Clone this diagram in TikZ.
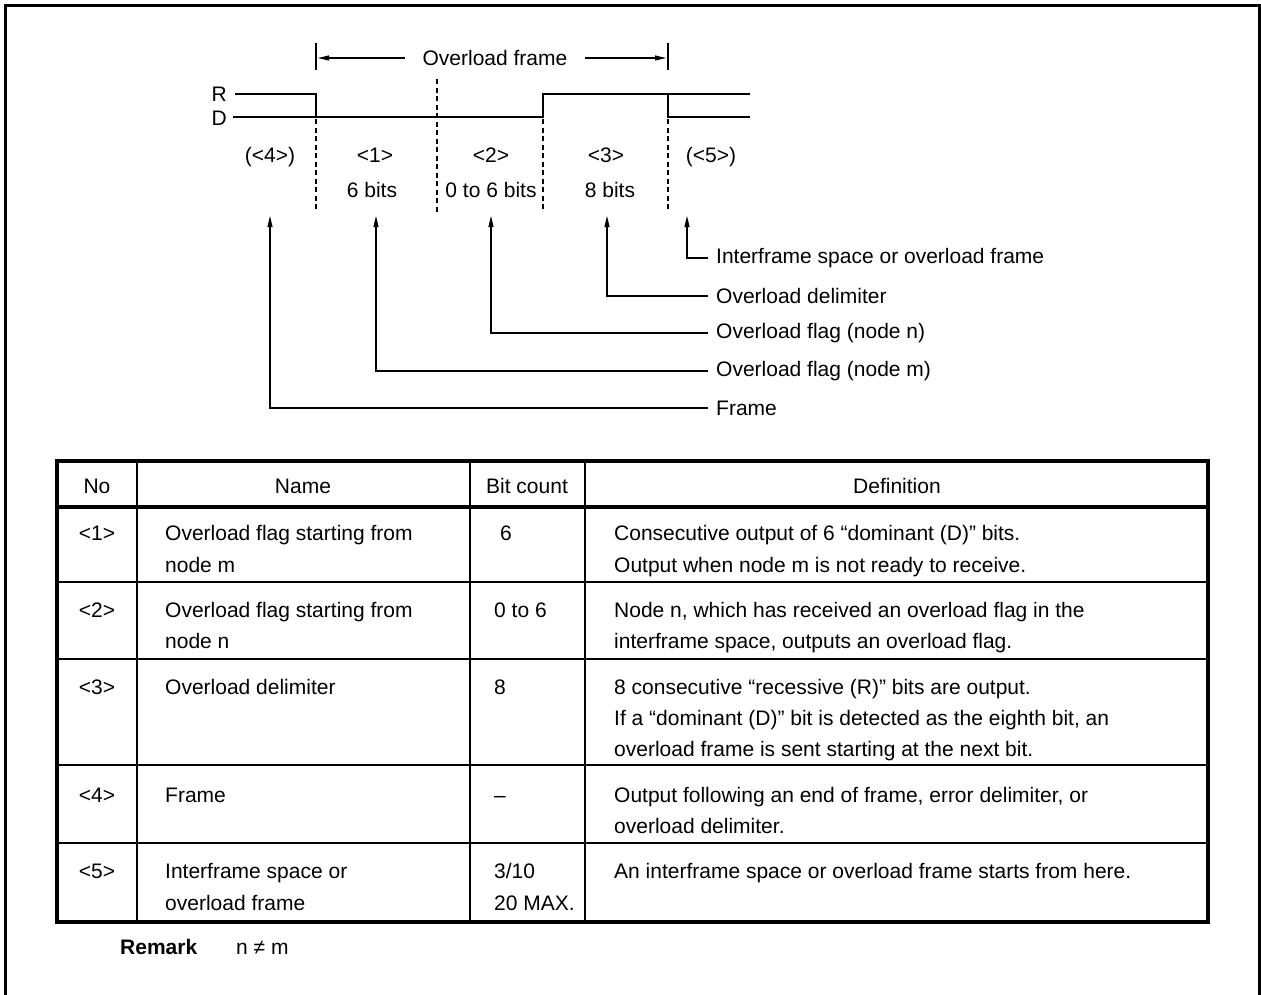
\documentclass[tikz,border=0pt]{standalone}
\usepackage{fontspec}
\setmainfont{Liberation Sans}
\usetikzlibrary{arrows.meta}
\begin{document}
\begin{tikzpicture}[x=1pt,y=-1pt,
  font=\fontsize{21}{25}\selectfont,
  lbl/.style={inner sep=0pt, anchor=base west},
  clbl/.style={inner sep=0pt, anchor=base},
  wave/.style={line width=2.6pt},
  guide/.style={line width=1.2pt, dash pattern=on 5pt off 3.5pt},
  bar/.style={line width=1.2pt},
  conn/.style={line width=1.1pt, -{Triangle[length=11pt,width=5pt]}},
  outer/.style={line width=3pt},
  tblout/.style={line width=3.6pt},
  tblin/.style={line width=2pt},
  callout/.style={inner ysep=0pt, inner xsep=8pt, anchor=west}]
\useasboundingbox (0,0) rectangle (1261,994);
% outer frame (open at the bottom)
\draw[outer] (5,996) -- (5,5) -- (1259,5) -- (1259,996);

% ---- Overload frame dimension ----
\draw[bar] (316,43) -- (316,70);
\draw[bar] (668,43) -- (668,70);
\node[inner ysep=0pt, inner xsep=17pt] (of) at (495,58) {Overload frame};
\coordinate (ofl) at (318,58);
\coordinate (ofr) at (666,58);
\draw[conn] (of.west) -- (ofl);
\draw[conn] (of.east) -- (ofr);

% ---- waveform ----
\node[inner sep=0pt, anchor=base east] (lR) at (227,101) {R};
\node[inner sep=0pt, anchor=base east] (lD) at (227,125) {D};
\draw[wave] (235,94) -- (316,94) -- (316,117) -- (543,117) -- (543,94) -- (750,94);
\draw[wave] (233,117) -- (316,117);
\draw[wave] (668,94) -- (668,117) -- (750,117);

% dashed guides
\draw[guide] (316,119) -- (316,212);
\draw[guide] (437,79) -- (437,212);
\draw[guide] (543,119) -- (543,212);
\draw[guide] (668,119) -- (668,212);

% field labels
\node[clbl] (f4) at (270,162) {(<4>)};
\node[clbl] (f1) at (375,162) {<1>};
\node[clbl] (f2) at (491,162) {<2>};
\node[clbl] (f3) at (606,162) {<3>};
\node[clbl] (f5) at (711,162) {(<5>)};
\node[clbl] (b1) at (372,197) {6 bits};
\node[clbl] (b2) at (491,197) {0 to 6 bits};
\node[clbl] (b3) at (610,197) {8 bits};

% callouts
\coordinate (t4) at (270,216);
\coordinate (t1) at (376,216);
\coordinate (t2) at (491,216);
\coordinate (t3) at (607,216);
\coordinate (t5) at (687,216);
\node[callout] (c5) at (708,258) {Interframe space or overload frame};
\node[callout] (c3) at (708,296) {Overload delimiter};
\node[callout] (c2) at (708,333) {Overload flag (node n)};
\node[callout] (c1) at (708,371) {Overload flag (node m)};
\node[callout] (c4) at (708,408) {Frame};
\draw[conn] (c5.west) -| (t5);
\draw[conn] (c3.west) -| (t3);
\draw[conn] (c2.west) -| (t2);
\draw[conn] (c1.west) -| (t1);
\draw[conn] (c4.west) -| (t4);

% ---- table ----
\draw[tblin] (137,461) -- (137,922);
\draw[tblin] (470,461) -- (470,922);
\draw[tblin] (585,461) -- (585,922);
\draw[tblin] (57,582) -- (1208,582);
\draw[tblin] (57,659) -- (1208,659);
\draw[tblin] (57,765) -- (1208,765);
\draw[tblin] (57,843) -- (1208,843);
\draw[tblout] (57,507) -- (1208,507);
\draw[tblout] (57,461) rectangle (1208,922);

% header
\node[clbl] (hNo) at (97,493.5) {No};
\node[clbl] (hName) at (303,493.5) {Name};
\node[clbl] (hBit) at (527,493.5) {Bit count};
\node[clbl] (hDef) at (897,493.5) {Definition};

% row 1
\node[clbl] (n1) at (97,540.5) {<1>};
\node[lbl] (m1a) at (165,540.5) {Overload flag starting from};
\node[lbl] (m1b) at (165,572.5) {node m};
\node[lbl] (k1) at (500,540.5) {6};
\node[lbl] (d1a) at (614,540.5) {Consecutive output of 6 “dominant (D)” bits.};
\node[lbl] (d1b) at (614,572.5) {Output when node m is not ready to receive.};
% row 2
\node[clbl] (n2) at (97,617.5) {<2>};
\node[lbl] (m2a) at (165,617.5) {Overload flag starting from};
\node[lbl] (m2b) at (165,648.5) {node n};
\node[lbl] (k2) at (494,617.5) {0 to 6};
\node[lbl] (d2a) at (614,617.5) {Node n, which has received an overload flag in the};
\node[lbl] (d2b) at (614,648.5) {interframe space, outputs an overload flag.};
% row 3
\node[clbl] (n3) at (97,694.5) {<3>};
\node[lbl] (m3a) at (165,694.5) {Overload delimiter};
\node[lbl] (k3) at (494,694.5) {8};
\node[lbl] (d3a) at (614,694.5) {8 consecutive “recessive (R)” bits are output.};
\node[lbl] (d3b) at (614,725.5) {If a “dominant (D)” bit is detected as the eighth bit, an};
\node[lbl] (d3c) at (614,756.5) {overload frame is sent starting at the next bit.};
% row 4
\node[clbl] (n4) at (97,802.5) {<4>};
\node[lbl] (m4a) at (165,802.5) {Frame};
\node[lbl] (k4) at (494,802.5) {–};
\node[lbl] (d4a) at (614,802.5) {Output following an end of frame, error delimiter, or};
\node[lbl] (d4b) at (614,833.5) {overload delimiter.};
% row 5
\node[clbl] (n5) at (97,878.5) {<5>};
\node[lbl] (m5a) at (165,878.5) {Interframe space or};
\node[lbl] (m5b) at (165,910.5) {overload frame};
\node[lbl] (k5a) at (494,878.5) {3/10};
\node[lbl] (k5b) at (494,910.5) {20 MAX.};
\node[lbl] (d5a) at (614,878.5) {An interframe space or overload frame starts from here.};

% remark
\node[lbl, font=\fontsize{21}{25}\selectfont\bfseries] (rem) at (120,954) {Remark};
\node[lbl] (remt) at (236,954) {n ≠ m};
\end{tikzpicture}
\end{document}
